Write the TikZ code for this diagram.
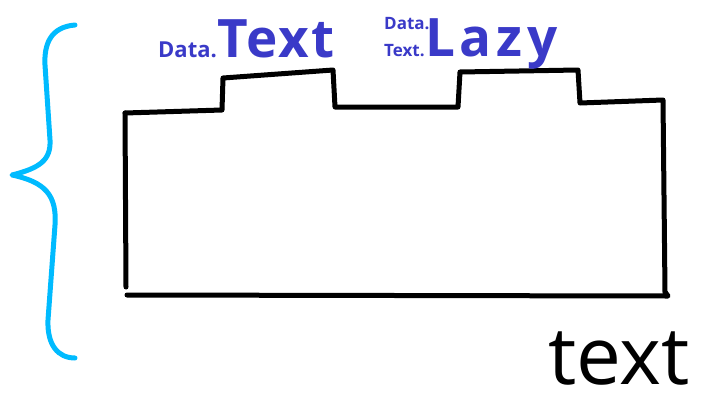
\documentclass[tikz,border=0pt]{standalone}
\usepackage{fontspec}
\setmainfont{Open Sans}
\usepackage[dvipsnames]{xcolor}
\definecolor{inkblue}{HTML}{3A3AC8}
\definecolor{bracecyan}{HTML}{00BBFF}

\begin{document}
\begin{tikzpicture}[x=1pt, y=-1pt,
  outline/.style={line width=5pt, line cap=round, line join=round},
  modlabel/.style={text=inkblue, inner sep=0pt, anchor=base west}]
  \useasboundingbox (0,0) rectangle (712,402);
  % curly brace on the left
  \draw[outline, color=bracecyan] (75,25) .. controls (50,27) and (44,45) .. (45,65)
    -- (50,140) .. controls (51,160) and (40,168) .. (12,175)
    .. controls (45,182) and (57,195) .. (55,225)
    -- (48,320) .. controls (47,345) and (58,358) .. (75,358);
  % block with two tabs
  \draw[outline] (125,113) -- (222,110) -- (223,78) -- (333,70) -- (335,107)
    -- (458,107) -- (460,72) -- (578,70) -- (580,103) -- (663,100)
    -- (665,292);
  \draw[outline] (125,113) -- (126,287);
  \draw[outline] (127,295) -- (668,296) -- (665,292);
  % labels above the tabs
  \node[modlabel, font=\bfseries\fontsize{22}{22}\selectfont] (datasmall) at (158,57) {Data.};
  \node[modlabel, font=\bfseries\fontsize{53}{53}\selectfont\addfontfeatures{LetterSpace=4}] (textbig) at (datasmall.base east) {Text};
  \node[modlabel, font=\bfseries\fontsize{17}{17}\selectfont] (dataupper) at (384,29) {Data.};
  \node[modlabel, font=\bfseries\fontsize{17}{17}\selectfont] (textsmall) at (384,56) {Text.};
  \node[modlabel, font=\bfseries\fontsize{53}{53}\selectfont\addfontfeatures{LetterSpace=9}] (lazybig) at (textsmall.base east) {Lazy};
  % caption at the bottom right
  \node[inner sep=0pt, anchor=base east, font=\fontsize{80}{80}\selectfont] (caption) at (690,384) {text};
\end{tikzpicture}
\end{document}
